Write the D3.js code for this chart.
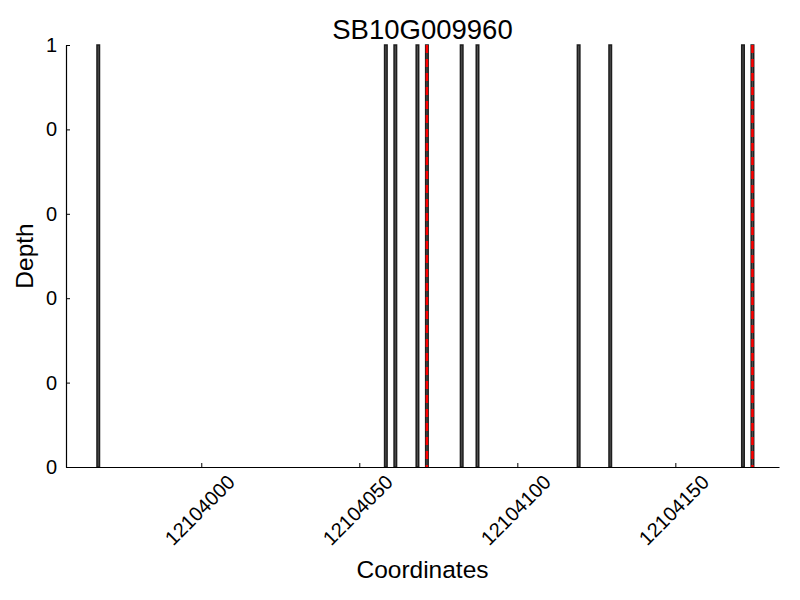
<!DOCTYPE html>
<html>
<head>
<meta charset="utf-8">
<script src="https://cdn.jsdelivr.net/npm/d3@7"></script>
<style>
  body { margin: 0; background: #fff; }
  svg { display: block; font-family: "Liberation Sans", Arial, sans-serif; }
</style>
</head>
<body>
<svg id="chart" width="800" height="600"></svg>
<script>
const title = "SB10G009960";
const positions = [12103967, 12104058, 12104061, 12104068, 12104071, 12104082, 12104087, 12104119, 12104129, 12104171, 12104174];
const depths = [1, 1, 1, 1, 1, 1, 1, 1, 1, 1, 1];
const markers = [12104071, 12104174];
const xTicks = [12104000, 12104050, 12104100, 12104150];
const yTicks = [0, 0.2, 0.4, 0.6, 0.8, 1];
const yTickLabels = ["0", "0", "0", "0", "0", "1"];
const xDomain = [12103957.2, 12104182.8];
const barWidth = 0.8;

const svg = d3.select("#chart");
const mLeft = 66, mRight = 779, mTop = 45, mBottom = 467;

const x = d3.scaleLinear().domain(xDomain).range([mLeft, mRight]);
const y = d3.scaleLinear().domain([0, 1]).range([mBottom, mTop]);

// bars
svg.append("g").selectAll("rect")
  .data(positions.map((p, i) => ({p, d: depths[i]})))
  .join("rect")
  .attr("x", d => x(d.p))
  .attr("width", d => x(d.p + barWidth) - x(d.p))
  .attr("y", d => y(d.d))
  .attr("height", d => y(0) - y(d.d))
  .attr("fill", "#505050")
  .attr("stroke", "#1e1e1e")
  .attr("stroke-width", 1.5);

// red dashed markers
svg.append("g").selectAll("line")
  .data(markers)
  .join("line")
  .attr("x1", d => x(d + barWidth / 2))
  .attr("x2", d => x(d + barWidth / 2))
  .attr("y1", y(1))
  .attr("y2", y(0))
  .attr("stroke", "red")
  .attr("stroke-width", 2.5)
  .attr("stroke-dasharray", "8,6");

// x axis
const xAxis = d3.axisBottom(x).tickValues(xTicks).tickFormat(d3.format("d")).tickSizeInner(-4).tickSizeOuter(0);
const gx = svg.append("g").attr("transform", `translate(0,${mBottom})`).call(xAxis);
gx.select(".domain").attr("stroke", "#000").attr("stroke-width", 1.2);
gx.selectAll(".tick line").attr("stroke", "#000");
gx.selectAll(".tick text")
  .attr("font-size", 20)
  .attr("fill", "#000")
  .attr("text-anchor", "middle")
  .attr("dy", "0.35em")
  .attr("y", 0).attr("x", 0)
  .attr("transform", "translate(-2,43) rotate(-45)");

// y axis
const yAxis = d3.axisLeft(y).tickValues(yTicks).tickFormat((d, i) => yTickLabels[i]).tickSizeInner(-4).tickSizeOuter(0).tickPadding(9);
const gy = svg.append("g").attr("transform", `translate(${mLeft},0)`).call(yAxis);
gy.select(".domain").attr("stroke", "#000").attr("stroke-width", 1.2);
gy.selectAll(".tick line").attr("stroke", "#000");
gy.selectAll(".tick text").attr("font-size", 20).attr("fill", "#000");

// title and labels
svg.append("text").attr("x", (mLeft + mRight) / 2).attr("y", 39)
  .attr("text-anchor", "middle").attr("font-size", 27.5).text(title);
svg.append("text").attr("x", (mLeft + mRight) / 2).attr("y", 578)
  .attr("text-anchor", "middle").attr("font-size", 24.5).text("Coordinates");
svg.append("text").attr("transform", `translate(33,${(mTop + mBottom) / 2}) rotate(-90)`)
  .attr("text-anchor", "middle").attr("font-size", 24.5).text("Depth");
</script>
</body>
</html>
